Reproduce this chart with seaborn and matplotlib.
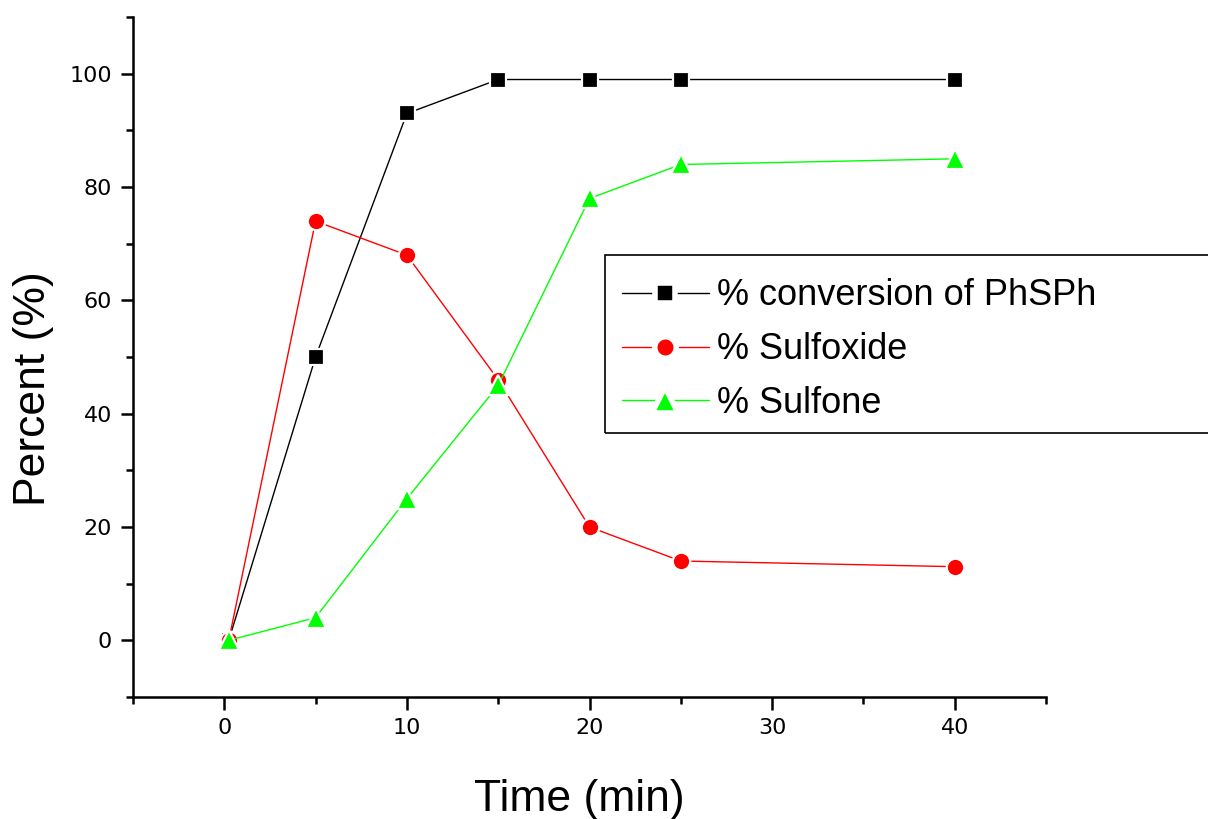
import pandas as pd
import seaborn as sns
import matplotlib.pyplot as plt
from matplotlib.ticker import MultipleLocator
from matplotlib.patches import Rectangle

time = [0.25, 5, 10, 15, 20, 25, 40]
conversion = [0, 50, 93, 99, 99, 99, 99]
sulfoxide = [0, 74, 68, 46, 20, 14, 13]
sulfone = [0, 4, 25, 45, 78, 84, 85]

df = pd.DataFrame({'Time': time, 'Conversion': conversion,
                   'Sulfoxide': sulfoxide, 'Sulfone': sulfone})

sns.set_style("ticks", rc={'axes.edgecolor': 'black', 'text.color': 'black',
                           'axes.labelcolor': 'black', 'xtick.color': 'black',
                           'ytick.color': 'black'})
plt.rcParams['font.family'] = ['Liberation Sans', 'DejaVu Sans']

fig = plt.figure(figsize=(12.08, 8.19), dpi=100)
ax = fig.add_axes([0.110, 0.149, 0.756, 0.830])

# white marker edge gives the small gap between line and symbol
sns.lineplot(data=df, x='Time', y='Conversion', color='black', marker='s',
             markersize=12, markeredgewidth=1.6, markeredgecolor='white',
             linewidth=1, label='% conversion of PhSPh', ax=ax)
sns.lineplot(data=df, x='Time', y='Sulfoxide', color='#ff0000', marker='o',
             markersize=12.6, markeredgewidth=1.6, markeredgecolor='white',
             linewidth=1, label='% Sulfoxide', ax=ax)
sns.lineplot(data=df, x='Time', y='Sulfone', color='#00ff00', marker='^',
             markersize=15, markeredgewidth=1.6, markeredgecolor='white',
             linewidth=1, label='% Sulfone', ax=ax)

ax.set_xlim(-5, 45)
ax.set_ylim(-10, 110)
ax.set_xticks([0, 10, 20, 30, 40])
ax.set_yticks([0, 20, 40, 60, 80, 100])
ax.xaxis.set_minor_locator(MultipleLocator(5))
ax.yaxis.set_minor_locator(MultipleLocator(10))

for s in ['top', 'right']:
    ax.spines[s].set_visible(False)
for s in ['left', 'bottom']:
    ax.spines[s].set_linewidth(1.8)
ax.tick_params(which='major', length=9, width=1.8, labelsize=16, pad=6)
ax.tick_params(which='minor', length=5, width=1.8)
for lab in ax.get_xticklabels() + ax.get_yticklabels():
    lab.set_fontfamily('DejaVu Sans')

ax.set_xlabel('Time (min)', fontsize=32)
ax.xaxis.set_label_coords(0.489, -0.12)
ax.set_ylabel('Percent (%)', fontsize=32, labelpad=11)
ax.yaxis.label.set_y(0.454)

leg = ax.legend(loc='upper left', bbox_to_anchor=(0.515, 0.660),
                bbox_transform=fig.transFigure, fontsize=26, frameon=False,
                handlelength=2.4, borderpad=0, labelspacing=0.52,
                borderaxespad=0, handletextpad=0.22)
# wider white ring on legend symbols, like the gaps in the reference
for h, ms in zip(leg.legend_handles, [14, 15.5, 18.5]):
    h.set_markeredgewidth(4)
    h.set_markersize(ms)

# legend box runs off the right edge of the figure
fig.patches.append(Rectangle((605 / 1208, 1 - 433 / 819), 0.6, 178 / 819,
                             transform=fig.transFigure, fill=False,
                             edgecolor='black', linewidth=1.2))

fig.savefig('out.png', dpi=100)
